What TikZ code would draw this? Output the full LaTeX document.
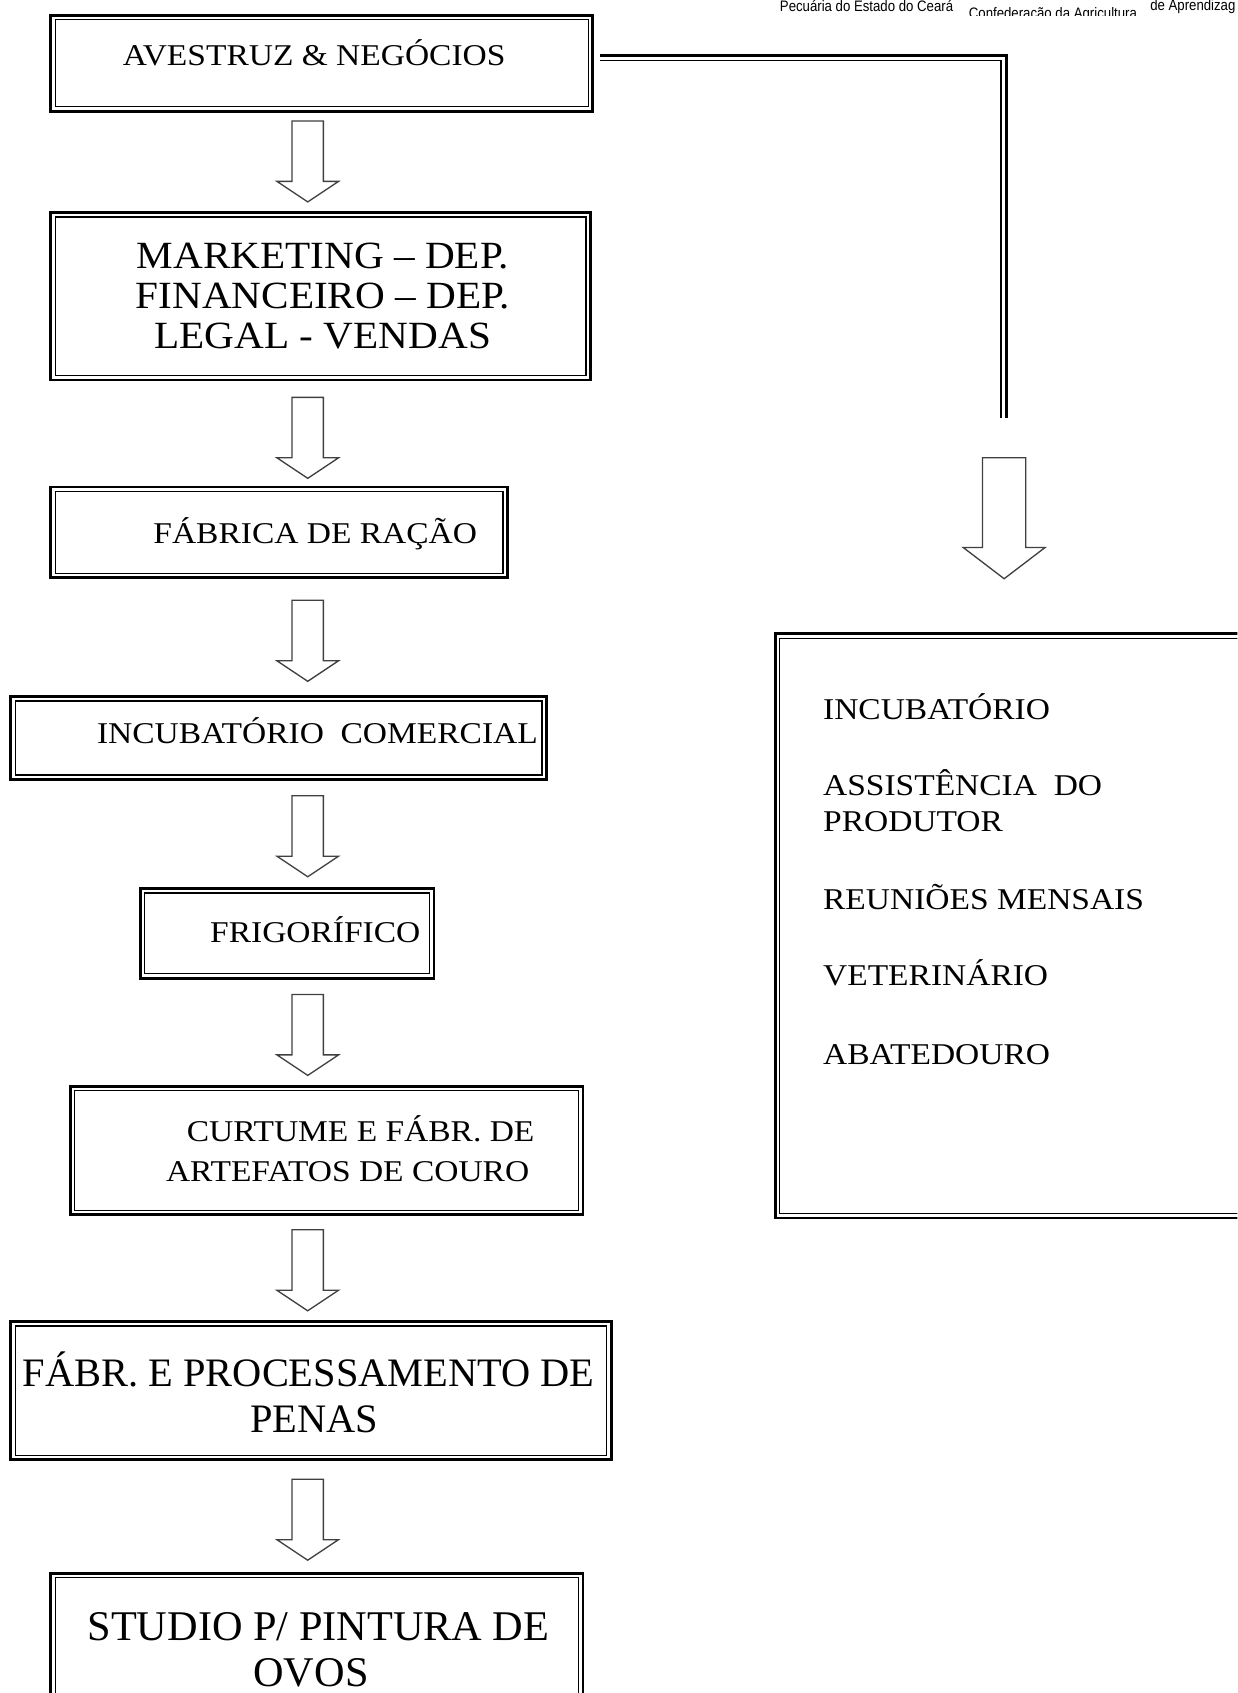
\documentclass[tikz,border=0pt]{standalone}
\usepackage{fontspec}
\setmainfont{Liberation Serif}
\newfontfamily\slabfont[FakeStretch=1.11]{Liberation Serif}
\newfontfamily\widefont[FakeStretch=1.07]{Liberation Serif}
\newfontfamily\headfont[FakeStretch=0.87]{Liberation Sans}
\usetikzlibrary{fit}

\tikzset{
  dblbox/.style={draw, line width=1.5pt, inner sep=0pt},
  innerframe/.style={line width=0.7pt},
  slab/.style={font=\slabfont\fontsize{15.9}{19}\selectfont, anchor=base, inner sep=0pt},
  roman/.style={font=\fontsize{#1}{24}\selectfont, anchor=base, inner sep=0pt},
  item/.style={slab, anchor=base west},
  headtxt/.style={font=\headfont\fontsize{8}{9}\selectfont, anchor=base west, inner sep=0pt},
  linkthick/.style={line width=1.6pt},
  linkthin/.style={line width=0.7pt},
  smallarrow/.pic={\draw[line width=0.7pt, black!75] (-14.5,0) -- (14.5,0) -- (14.5,56) -- (28.5,56) -- (0,75) -- (-28.5,56) -- (-14.5,56) -- cycle;},
  bigarrow/.pic={\draw[line width=0.7pt, black!75] (-20,0) -- (20,0) -- (20,83) -- (38,83) -- (0,112) -- (-38,83) -- (-20,83) -- cycle;}
}

\begin{document}
\begin{tikzpicture}[x=0.02cm, y=-0.02cm]
\useasboundingbox (0,0) rectangle (1146,1568);
\clip (0,0) rectangle (1146,1568);
\fill[white] (0,0) rectangle (1146,1568);

% header fragments
\node[headtxt] (hd1) at (722,10.8) {Pecuária do Estado do Ceará};
\begin{scope}
  \clip (890,0) rectangle (1062,14.5);
  \node[headtxt] (hd2) at (897,17.4) {Confederação da Agricultura};
\end{scope}
\node[headtxt] (hd3) at (1065,10) {de Aprendizag};

% frames
\node[dblbox, fit={(47,14) (549,103)}] (avestruz) {};
\node[dblbox, fit={(47,197) (547,352)}] (marketing) {};
\node[dblbox, fit={(47,451) (470,535)}] (fabrica) {};
\node[dblbox, fit={(10,645) (506,722)}] (incub) {};
\node[dblbox, fit={(130,823) (402,906)}] (frigo) {};
\node[dblbox, fit={(65,1006) (540,1125)}] (curtume) {};
\node[dblbox, fit={(10,1224) (566,1352)}] (penas) {};
\node[dblbox, fit={(47,1457) (540,1600)}] (studio) {};
\node[dblbox, fit={(718,587) (1170,1128)}] (apoio) {};
\foreach \b in {avestruz,marketing,fabrica,incub,frigo,curtume,penas,studio,apoio}
  \draw[innerframe] ([shift={(3.1pt,-3.1pt)}]\b.north west) rectangle ([shift={(-3.1pt,3.1pt)}]\b.south east);

% texts
\node[slab] (avestruz-t) at (291,61) {AVESTRUZ \& NEGÓCIOS};
\node[inner sep=0pt, align=center, font=\widefont\fontsize{20.3}{21}\selectfont] (marketing-t) at (299,274)
  {MARKETING – DEP.\\FINANCEIRO – DEP.\\LEGAL - VENDAS};
\node[slab] (fabrica-t) at (292,503) {FÁBRICA DE RAÇÃO};
\node[slab] (incub-t) at (294,689) {INCUBATÓRIO~ COMERCIAL};
\node[slab] (frigo-t) at (292,873) {FRIGORÍFICO};
\node[slab] (curtume-t1) at (334,1057) {CURTUME E FÁBR. DE};
\node[slab] (curtume-t2) at (322,1094) {ARTEFATOS DE COURO};
\node[roman=21.3] (penas-t1) at (286,1284) {FÁBR. E PROCESSAMENTO DE};
\node[roman=21.3] (penas-t2) at (291,1327) {PENAS};
\node[roman=22.3] (studio-t1) at (295,1519) {STUDIO P/ PINTURA DE};
\node[roman=22.3] (studio-t2) at (288,1562) {OVOS};

\node[item] (it1) at (762,666) {INCUBATÓRIO};
\node[item] (it2) at (762,737) {ASSISTÊNCIA~ DO};
\node[item] (it3) at (762,770) {PRODUTOR};
\node[item] (it4) at (762,842) {REUNIÕES MENSAIS};
\node[item] (it5) at (762,913) {VETERINÁRIO};
\node[item] (it6) at (762,986) {ABATEDOURO};

% block arrows
\pic at (285,112) {smallarrow};
\pic at (285,368) {smallarrow};
\pic at (285,556) {smallarrow};
\pic at (285,737) {smallarrow};
\pic at (285,921) {smallarrow};
\pic at (285,1139) {smallarrow};
\pic at (285,1370) {smallarrow};
\pic at (930,424) {bigarrow};

% double link to the right column
\coordinate (ls1) at (556,51);
\coordinate (le1) at (932,387);
\coordinate (ls2) at (556,56);
\coordinate (le2) at (927,387);
\draw[linkthick] (ls1) -| (le1);
\draw[linkthin] (ls2) -| (le2);
\end{tikzpicture}
\end{document}
